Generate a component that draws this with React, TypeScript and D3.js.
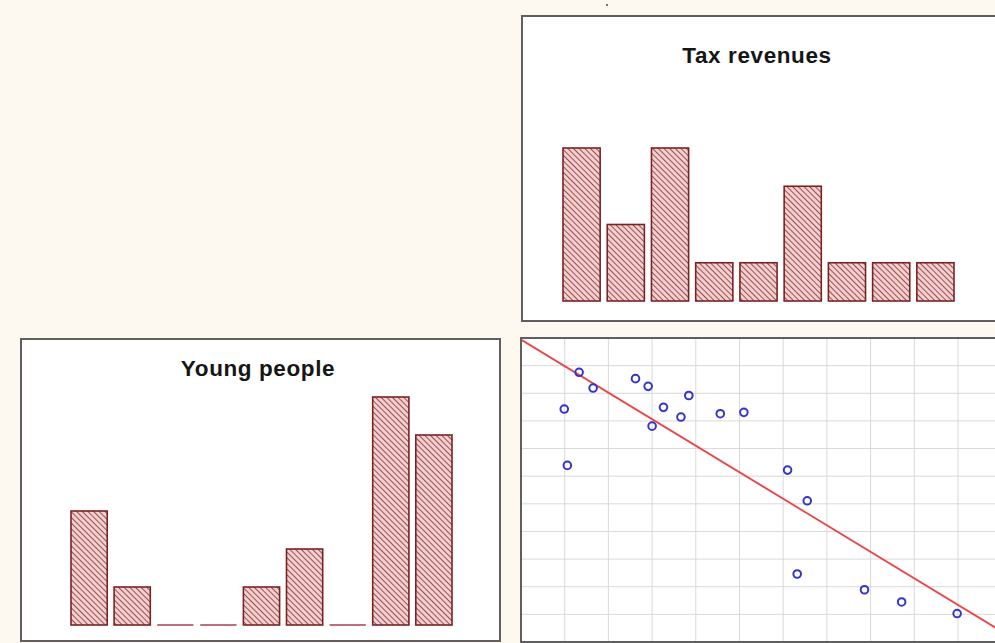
import React, { useEffect, useRef } from "react";
import * as d3 from "d3";

// bar panels: one bar per region (9 regions)
const regions = ["1", "2", "3", "4", "5", "6", "7", "8", "9"];
const taxValues = [4, 2, 4, 1, 1, 3, 1, 1, 1];
const youngValues = [3, 1, 0, 0, 1, 2, 0, 6, 5];

// scatter panel, in grid units
const scatterX = [0.99, 1.06, 1.33, 1.65, 2.62, 2.91, 3.0, 3.26, 3.66, 3.84, 4.56, 5.1, 6.1, 6.55, 6.32, 7.86, 8.71, 9.98];
const scatterY = [8.43, 6.39, 9.76, 9.19, 9.53, 9.25, 7.81, 8.49, 8.14, 8.92, 8.26, 8.31, 6.22, 5.11, 2.46, 1.89, 1.45, 1.03];
const gridTicks = d3.range(0, 12);

const W = 995;
const H = 643;
const BORDER = "#5f5f5f";
const BAR_STROKE = "#7a2323";

const App: React.FC = () => {
  const ref = useRef<SVGSVGElement | null>(null);

  useEffect(() => {
    if (!ref.current) return;
    const svg = d3.select(ref.current);
    svg.selectAll("*").remove();

    svg.append("rect").attr("width", W).attr("height", H).attr("fill", "#fdf9f0");

    const defs = svg.append("defs");
    const pat = defs
      .append("pattern")
      .attr("id", "hatch")
      .attr("patternUnits", "userSpaceOnUse")
      .attr("width", 4)
      .attr("height", 4)
      .attr("patternTransform", "rotate(-45)");
    pat.append("rect").attr("width", 4).attr("height", 4).attr("fill", "#f4cfd0");
    pat
      .append("line")
      .attr("x1", 0)
      .attr("y1", 0)
      .attr("x2", 0)
      .attr("y2", 4)
      .attr("stroke", "#94484a")
      .attr("stroke-width", 1.9);

    const drawBars = (
      box: { x: number; y: number; w: number; h: number },
      title: string,
      titleX: number,
      titleY: number,
      values: number[],
      xr: [number, number],
      base: number,
      top: number,
      max: number
    ) => {
      const g = svg.append("g");
      g.append("rect")
        .attr("x", box.x)
        .attr("y", box.y)
        .attr("width", box.w)
        .attr("height", box.h)
        .attr("fill", "#fff")
        .attr("stroke", BORDER)
        .attr("stroke-width", 2);
      g.append("text")
        .attr("x", titleX)
        .attr("y", titleY)
        .attr("text-anchor", "middle")
        .attr("font-family", "Liberation Sans, Arial, sans-serif")
        .attr("font-weight", "bold")
        .attr("font-size", 22.5)
        .attr("letter-spacing", 0.6)
        .attr("fill", "#161616")
        .text(title);

      const x = d3.scaleBand<string>().domain(regions).range(xr).paddingInner(0.16).paddingOuter(0);
      const y = d3.scaleLinear().domain([0, max]).range([base, top]);
      const data = regions.map((r, i) => ({ r, v: values[i] }));

      g.selectAll("rect.bar")
        .data(data.filter((d) => d.v > 0))
        .enter()
        .append("rect")
        .attr("class", "bar")
        .attr("x", (d) => x(d.r)!)
        .attr("y", (d) => y(d.v))
        .attr("width", x.bandwidth())
        .attr("height", (d) => y(0) - y(d.v))
        .attr("fill", "url(#hatch)")
        .attr("stroke", BAR_STROKE)
        .attr("stroke-width", 1.6);

      g.selectAll("line.zero")
        .data(data.filter((d) => d.v === 0))
        .enter()
        .append("line")
        .attr("class", "zero")
        .attr("x1", (d) => x(d.r)!)
        .attr("x2", (d) => x(d.r)! + x.bandwidth())
        .attr("y1", y(0))
        .attr("y2", y(0))
        .attr("stroke", "#a8404c")
        .attr("stroke-width", 1.6);
    };

    drawBars({ x: 522, y: 16, w: 480, h: 305 }, "Tax revenues", 757, 63, taxValues, [563, 954], 301, 148, 4);
    drawBars({ x: 21, y: 339, w: 479, h: 302 }, "Young people", 258, 376, youngValues, [71, 452], 625, 397, 6);

    // scatter with least-squares line
    const sx = d3.scaleLinear().domain([0, 11]).range([521, 1001.7]);
    const sy = d3.scaleLinear().domain([0, 11]).range([642, 338]);
    const sg = svg.append("g");
    sg.append("clipPath")
      .attr("id", "sclip")
      .append("rect")
      .attr("x", 521)
      .attr("y", 338)
      .attr("width", 481)
      .attr("height", 304);
    sg.append("rect")
      .attr("x", 521)
      .attr("y", 338)
      .attr("width", 481)
      .attr("height", 304)
      .attr("fill", "#fff");
    const inner = sg.append("g").attr("clip-path", "url(#sclip)");
    inner
      .selectAll("line.vg")
      .data(gridTicks.slice(1))
      .enter()
      .append("line")
      .attr("x1", (d) => sx(d))
      .attr("x2", (d) => sx(d))
      .attr("y1", 338)
      .attr("y2", 642)
      .attr("stroke", "#d9d9d9")
      .attr("stroke-width", 1);
    inner
      .selectAll("line.hg")
      .data(gridTicks.slice(1))
      .enter()
      .append("line")
      .attr("x1", 521)
      .attr("x2", 1002)
      .attr("y1", (d) => sy(d))
      .attr("y2", (d) => sy(d))
      .attr("stroke", "#d9d9d9")
      .attr("stroke-width", 1);

    const mx = d3.mean(scatterX)!;
    const my = d3.mean(scatterY)!;
    const sxy = d3.sum(scatterX, (v, i) => (v - mx) * (scatterY[i] - my));
    const sxx = d3.sum(scatterX, (v) => (v - mx) * (v - mx));
    const slope = sxy / sxx;
    const icpt = my - slope * mx;
    inner
      .append("line")
      .attr("x1", sx(0))
      .attr("y1", sy(icpt))
      .attr("x2", sx(11))
      .attr("y2", sy(icpt + slope * 11))
      .attr("stroke", "#e8474a")
      .attr("stroke-width", 1.8);

    inner
      .selectAll("circle")
      .data(scatterX.map((v, i) => [v, scatterY[i]]))
      .enter()
      .append("circle")
      .attr("cx", (d) => sx(d[0]))
      .attr("cy", (d) => sy(d[1]))
      .attr("r", 3.8)
      .attr("fill", "none")
      .attr("stroke", "#3535c8")
      .attr("stroke-width", 2);

    sg.append("rect")
      .attr("x", 521)
      .attr("y", 338)
      .attr("width", 481)
      .attr("height", 304)
      .attr("fill", "none")
      .attr("stroke", BORDER)
      .attr("stroke-width", 2);

    // small speck above the top panel
    svg.append("rect").attr("x", 606).attr("y", 4).attr("width", 2).attr("height", 2).attr("fill", "#777");
  }, []);

  return (
    <svg
      ref={ref}
      width={W}
      height={H}
      style={{ position: "absolute", left: 0, top: 0, display: "block" }}
    ></svg>
  );
};

export default App;
